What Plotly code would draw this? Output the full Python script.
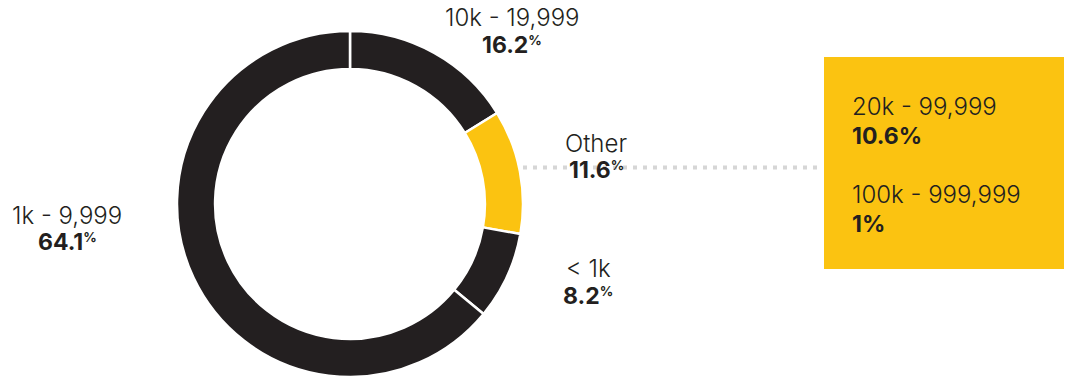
import plotly.graph_objects as go

# Slice data (clockwise from 12 o'clock)
labels = ["10k - 19,999", "Other", "< 1k", "1k - 9,999"]
values = [16.2, 11.6, 8.2, 64.1]
slice_colors = ["#231f20", "#fbc311", "#231f20", "#231f20"]

# Breakdown of the "Other" slice
other_labels = ["20k - 99,999", "100k - 999,999"]
other_values = [10.6, 1]

W, H = 1066, 377
DARK = "#231f20"
YELLOW = "#fbc311"
FONT = "Inter"
LABEL_SIZE = 24
VALUE_SIZE = 23


def px(x):
    return x / W


def py(y):
    return 1 - y / H


fig = go.Figure()
fig.add_trace(go.Pie(
    labels=labels,
    values=values,
    sort=False,
    direction="clockwise",
    rotation=0,
    hole=0.78,
    marker=dict(colors=slice_colors, line=dict(color="white", width=2.5)),
    textinfo="none",
    hoverinfo="label+percent",
    showlegend=False,
    domain=dict(x=[px(177), px(523)], y=[py(377), py(31)]),
))

# Label positions (pixel centres) for each slice
label_pos = {
    "10k - 19,999": (512, 17, 45),
    "Other": (596, 143, 170),
    "< 1k": (588, 268, 296),
    "1k - 9,999": (67, 215, 242),
}

annotations = []
for lab, val in zip(labels, values):
    x, y1, y2 = label_pos[lab]
    annotations.append(dict(
        x=px(x), y=py(y1), xref="paper", yref="paper", text=lab,
        showarrow=False, xanchor="center", yanchor="middle",
        font=dict(family=FONT, size=LABEL_SIZE, color=DARK, weight=300),
    ))
    annotations.append(dict(
        x=px(x), y=py(y2), xref="paper", yref="paper",
        text=f"<b>{val}<span style='font-size:19px'><sup>%</sup></span></b>",
        showarrow=False, xanchor="center", yanchor="middle",
        font=dict(family=FONT, size=VALUE_SIZE, color=DARK),
    ))

# Breakdown text inside the yellow panel
box_rows = [(106, 135.5), (194, 223.5)]
for (y1, y2), lab, val in zip(box_rows, other_labels, other_values):
    annotations.append(dict(
        x=px(850), y=py(y1), xref="paper", yref="paper", text=lab,
        showarrow=False, xanchor="left", yanchor="middle",
        font=dict(family=FONT, size=LABEL_SIZE, color=DARK, weight=300),
    ))
    annotations.append(dict(
        x=px(850), y=py(y2), xref="paper", yref="paper",
        text=f"<b>{val}%</b>",
        showarrow=False, xanchor="left", yanchor="middle",
        font=dict(family=FONT, size=VALUE_SIZE, color=DARK),
    ))

shapes = [
    # dotted connector from the "Other" slice to the panel
    dict(type="line", xref="paper", yref="paper",
         x0=px(523), x1=px(822), y0=py(167.5), y1=py(167.5),
         line=dict(color="#d6d6d6", width=4, dash="4px,6px"), layer="below"),
    # yellow breakdown panel
    dict(type="rect", xref="paper", yref="paper",
         x0=px(824), x1=px(1064), y0=py(269), y1=py(57),
         fillcolor=YELLOW, line=dict(width=0), layer="below"),
]

fig.update_layout(
    width=W, height=H,
    margin=dict(l=0, r=0, t=0, b=0),
    paper_bgcolor="white", plot_bgcolor="white",
    annotations=annotations,
    shapes=shapes,
)

fig.write_html("out.html")
